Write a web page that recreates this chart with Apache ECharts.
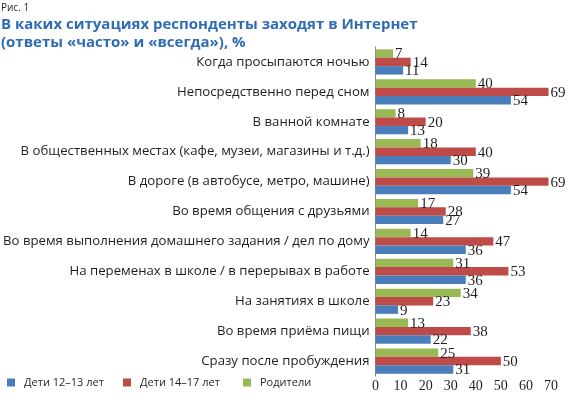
<!DOCTYPE html>
<html><head><meta charset="utf-8">
<script src="https://cdn.jsdelivr.net/npm/echarts@6/dist/echarts.min.js"></script>
<style>html,body{margin:0;padding:0;background:#fff}#c{width:570px;height:397px}</style>
</head><body><div id="c"></div>
<script>
const categories = [
  'Когда просыпаются ночью',
  'Непосредственно перед сном',
  'В ванной комнате',
  'В общественных местах (кафе, музеи, магазины и т.д.)',
  'В дороге (в автобусе, метро, машине)',
  'Во время общения с друзьями',
  'Во время выполнения домашнего задания / дел по дому',
  'На переменах в школе / в перерывах в работе',
  'На занятиях в школе',
  'Во время приёма пищи',
  'Сразу после пробуждения'
];
const kids1213 = [11, 54, 13, 30, 54, 27, 36, 36, 9, 22, 31];
const kids1417 = [14, 69, 20, 40, 69, 28, 47, 53, 23, 38, 50];
const parents  = [7, 40, 8, 18, 39, 17, 14, 31, 34, 13, 25];
const seriesNames = ['Дети 12–13 лет', 'Дети 14–17 лет', 'Родители'];
const xTicks = [0, 10, 20, 30, 40, 50, 60, 70];

const colors = ['#4a7ebb', '#be4b48', '#98b954'];
const chart = echarts.init(document.getElementById('c'));
const serif = '"Liberation Serif", "DejaVu Serif", serif';
const sans = '"Open Sans", "Noto Sans", sans-serif';

function bar(name, data, color) {
  return {
    name, type: 'bar', data, barWidth: 8.4, barGap: '0%',
    itemStyle: { color },
    label: { show: true, position: 'right', distance: 2, offset: [0, 1],
      fontFamily: serif, fontSize: 15, color: '#231f20' }
  };
}
function leg(i, left) {
  return { data: [seriesNames[i]], left, top: 377, itemWidth: 8, itemHeight: 8, itemGap: 0,
    icon: 'rect', padding: 0,
    textStyle: { fontFamily: sans, fontSize: 11, color: '#231f20', padding: [0, 0, 0, 4] } };
}
chart.setOption({
  animation: false,
  title: [
    { text: 'Рис. 1', left: 1, top: 3, padding: 0,
      textStyle: { fontFamily: sans, fontSize: 10, fontWeight: 'normal', color: '#231f20' } },
    { text: 'В каких ситуациях респонденты заходят в Интернет\n(ответы «часто» и «всегда»), %', left: 1, top: 16, padding: 0,
      textStyle: { fontFamily: sans, fontSize: 15, fontWeight: 'bold', color: '#2f6cb5', lineHeight: 18 } }
  ],
  legend: [leg(0, 7), leg(1, 123), leg(2, 243)],
  grid: { left: 375, right: 19, top: 47, bottom: 21, containLabel: false },
  xAxis: { type: 'value', min: 0, max: 70, interval: 10,
    axisLine: { show: false }, axisTick: { show: false }, splitLine: { show: false },
    axisLabel: { fontFamily: serif, fontSize: 14, color: '#231f20', margin: 3,
      formatter: v => xTicks.includes(v) ? String(v) : '' } },
  yAxis: { type: 'category', data: categories, inverse: true,
    axisLine: { show: true, lineStyle: { color: '#868686', width: 1 } },
    axisTick: { show: false },
    axisLabel: { fontFamily: sans, fontSize: 13.2, color: '#1e1e1e', margin: 6 } },
  series: [
    bar(seriesNames[2], parents, colors[2]),
    bar(seriesNames[1], kids1417, colors[1]),
    bar(seriesNames[0], kids1213, colors[0])
  ]
});
</script></body></html>
